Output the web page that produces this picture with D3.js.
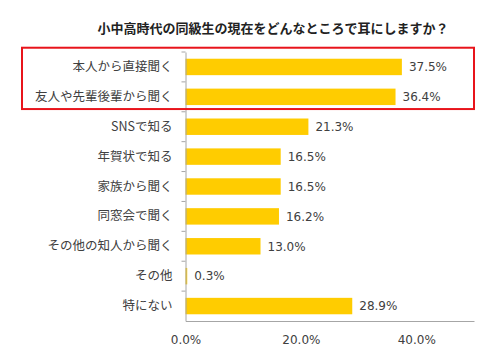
<!DOCTYPE html>
<html><head><meta charset="utf-8">
<script src="https://cdn.jsdelivr.net/npm/d3@7"></script>
<style>body{margin:0;background:#fff}</style>
</head><body>
<script>
const title = "小中高時代の同級生の現在をどんなところで耳にしますか？";
const categories = ["本人から直接聞く","友人や先輩後輩から聞く","SNSで知る","年賀状で知る","家族から聞く","同窓会で聞く","その他の知人から聞く","その他","特にない"];
const values = [37.5,36.4,21.3,16.5,16.5,16.2,13.0,0.3,28.9];
const xTicks = [0,20,40];
const highlighted = ["本人から直接聞く","友人や先輩後輩から聞く"];

const W=500,H=358;
const svg=d3.select("body").append("svg").attr("width",W).attr("height",H);
svg.append("rect").attr("width",W).attr("height",H).attr("fill","#fff");

const x=d3.scaleLinear().domain([0,50]).range([185.5,474]);
const y=d3.scaleBand().domain(categories).range([52,321]).paddingInner(0.45).paddingOuter(0.225);

svg.append("text").attr("x",273).attr("y",33).attr("text-anchor","middle")
  .attr("font-family","'Noto Sans CJK JP'").attr("font-weight","bold").attr("font-size",13)
  .attr("fill","#222").text(title);

// bars
svg.selectAll("rect.bar").data(values).enter().append("rect").attr("class","bar")
  .attr("x",x(0)).attr("y",(d,i)=>y(categories[i]))
  .attr("width",d=>x(d)-x(0)).attr("height",y.bandwidth()).attr("fill","#FFCC00");

// value labels
svg.selectAll("text.val").data(values).enter().append("text").attr("class","val")
  .attr("x",d=>x(d)+7).attr("y",(d,i)=>y(categories[i])+y.bandwidth()/2)
  .attr("dy","0.36em").attr("font-family","'DejaVu Sans'").attr("font-size",12)
  .attr("fill","#404040").text(d=>d.toFixed(1)+"%");

// y axis
const yAxis=svg.append("g").attr("transform",`translate(${x(0)},0)`)
  .call(d3.axisLeft(y).tickSize(0).tickPadding(13));
yAxis.select(".domain").attr("stroke","#a6a6a6");
yAxis.selectAll("text").attr("font-family","'Noto Sans CJK JP'").attr("font-size",12.5).attr("fill","#404040");
// band boundary ticks
const step=y.step();
const bounds=d3.range(categories.length).map(i=>52+i*step);
svg.selectAll("line.bt").data(bounds).enter().append("line").attr("class","bt")
  .attr("x1",x(0)-4).attr("x2",x(0)).attr("y1",d=>d).attr("y2",d=>d).attr("stroke","#a6a6a6");

// x axis
const xAxis=svg.append("g").attr("transform",`translate(0,321)`)
  .call(d3.axisBottom(x).tickValues(xTicks).tickSize(0).tickPadding(14).tickFormat(d=>d.toFixed(1)+"%"));
xAxis.select(".domain").attr("stroke","#a6a6a6");
xAxis.selectAll("text").attr("font-family","'DejaVu Sans'").attr("font-size",12).attr("fill","#404040");

// highlight box
const hb0=y(highlighted[0]), hb1=y(highlighted[1])+y.bandwidth();
svg.append("rect").attr("x",22).attr("y",hb0-11).attr("width",474-22).attr("height",(hb1+4)-(hb0-11))
  .attr("fill","none").attr("stroke","#e8141b").attr("stroke-width",2);
</script>
</body></html>
